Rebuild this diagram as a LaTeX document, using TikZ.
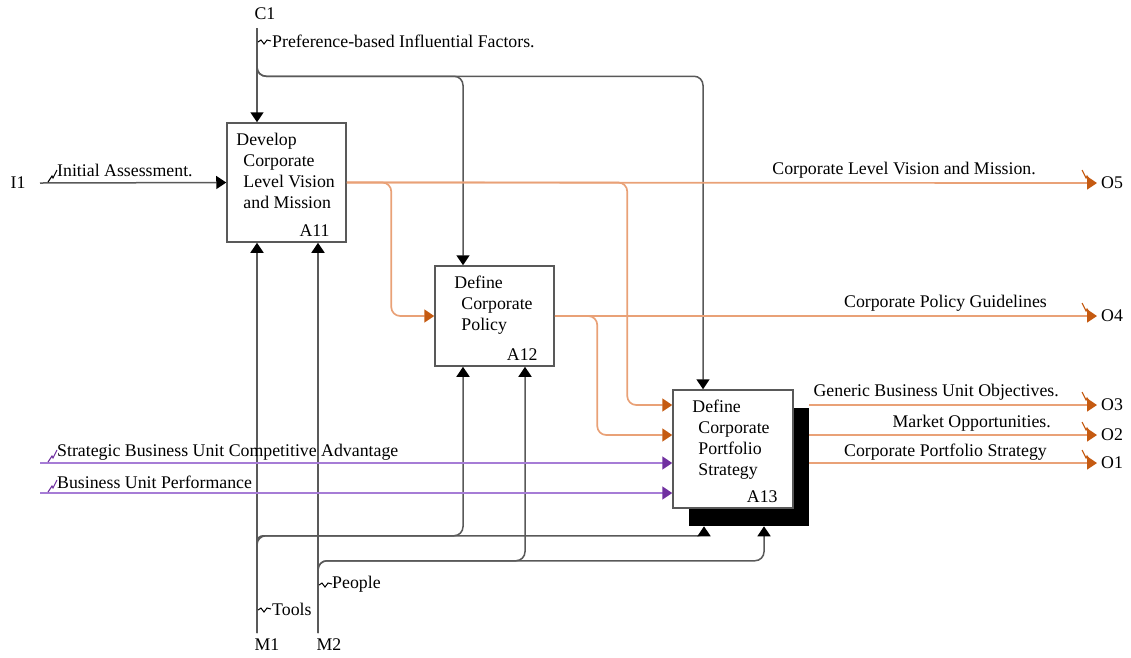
\documentclass[tikz,border=0pt]{standalone}
\usepackage{fontspec}
\setmainfont{Liberation Serif}
\usetikzlibrary{arrows.meta,calc,shadows}
\definecolor{lineorange}{HTML}{E9A177}
\definecolor{tiporange}{HTML}{C55A11}
\definecolor{linepurple}{HTML}{A67CD6}
\definecolor{tippurple}{HTML}{7030A0}
\definecolor{linegray}{HTML}{595959}
\tikzset{
  fnbox/.style={shape=rectangle,draw=linegray,fill=white,line width=1.5pt,inner sep=0pt},
  fntext/.style={anchor=north west,inner sep=0pt,align=left,font=\fontsize{17.8}{21}\selectfont},
  numlab/.style={anchor=east,inner sep=0pt,font=\fontsize{17.8}{21}\selectfont},
  lbl/.style={inner sep=0pt,font=\fontsize{17.8}{21}\selectfont},
  portlab/.style={inner sep=4pt,font=\fontsize{17.8}{21}\selectfont},
  ctl/.style={draw=linegray,line width=1.5pt,rounded corners=9pt,-{Triangle[length=10pt,width=13pt,color=black]}},
  outp/.style={draw=lineorange,line width=1.7pt,rounded corners=9pt,-{Triangle[length=10pt,width=13pt,color=tiporange]}},
  inp/.style={draw=linepurple,line width=1.7pt,-{Triangle[length=10pt,width=13pt,color=tippurple]}},
  squig/.pic={\draw[line width=1pt] (0,0) -- (3,-2) -- (6,2) -- (9,-2) -- (13,-1);},
  bolt/.pic={\draw[line width=1.1pt] (0,0) -- (4,-6) -- (5,-4) -- (9,-12);}
}
\begin{document}
\begin{tikzpicture}[x=1pt,y=-1pt]
\useasboundingbox (0,0) rectangle (1131,657);

\node[fnbox,minimum width=119pt,minimum height=119pt] (A11) at (286.5,182.5) {};
\node[fnbox,minimum width=119pt,minimum height=100pt] (A12) at (494.5,316) {};
\node[fnbox,minimum width=120pt,minimum height=118pt,drop shadow={shadow xshift=15.5pt,shadow yshift=-17.5pt,fill=black,opacity=1}] (A13) at (733,449) {};

\node[fntext] (A11t) at ($(A11.north west)+(10,11)$) {Develop\\\hspace*{7pt}Corporate\\\hspace*{7pt}Level Vision\\\hspace*{7pt}and Mission};
\node[fntext] (A12t) at ($(A12.north west)+(20,11)$) {Define\\\hspace*{7pt}Corporate\\\hspace*{7pt}Policy};
\node[fntext] (A13t) at ($(A13.north west)+(20,11)$) {Define\\\hspace*{6pt}Corporate\\\hspace*{6pt}Portfolio\\\hspace*{6pt}Strategy};
\node[numlab] (A11n) at ($(A11.south east)+(-17,-12)$) {A11};
\node[numlab] (A12n) at ($(A12.south east)+(-17,-12)$) {A12};
\node[numlab] (A13n) at ($(A13.south east)+(-16,-12)$) {A13};

\node[lbl] (C1) at (265,14) {C1};
\node[lbl] (I1) at (18,183) {I1};
\node[lbl] (M1) at (267,645) {M1};
\node[lbl] (M2) at (329,645) {M2};
\node[portlab,anchor=west] (O5) at (1097,183) {O5};
\node[portlab,anchor=west] (O4) at (1097,316) {O4};
\node[portlab,anchor=west] (O3) at (1097,405) {O3};
\node[portlab,anchor=west] (O2) at (1097,435) {O2};
\node[portlab,anchor=west] (O1) at (1097,463) {O1};

\coordinate (c1) at (257,28);
\coordinate (i1) at (40,183);
\coordinate (s1) at (40,463);
\coordinate (s2) at (40,493);
\coordinate (m1) at (257,633);
\coordinate (m2) at (318,633);

\draw[ctl] (c1) -- (A11.north -| c1);
\draw[ctl] (c1) |- ($(A12.north)+(-31.5,-189)$) -- ($(A12.north)+(-31.5,0)$);
\draw[ctl] (c1) |- ($(A13.north)+(-30,-313)$) -- ($(A13.north)+(-30,0)$);
\draw[ctl] (i1) -- (A11.west);
\draw[ctl] (m1) -- (A11.south -| m1);
\draw[ctl] (m2) -- (A11.south -| m2);
\draw[ctl] (m1) |- ($(A12.south)+(-31.5,169)$) -- ($(A12.south)+(-31.5,0)$);
\draw[ctl] (m2) |- ($(A12.south)+(30.5,194)$) -- ($(A12.south)+(30.5,0)$);
\draw[ctl,rounded corners=6pt] (m1) |- ($(A13.south)+(-29,27)$) -- ($(A13.south)+(-29,17.5)$);
\draw[ctl] (m2) |- ($(A13.south)+(31,52)$) -- ($(A13.south)+(31,17.5)$);

\draw[outp] (A11.east) -- (O5.west);
\draw[outp] (A11.east) -| ($(A12.west)+(-43,0)$) -- (A12.west);
\draw[outp] (A11.east) -| ($(A13.west)+(-45,-44)$) -- ($(A13.west)+(0,-44)$);
\draw[outp] (A12.east) -- (O4.west);
\draw[outp] (A12.east) -| ($(A13.west)+(-75,-14)$) -- ($(A13.west)+(0,-14)$);
\draw[outp] ($(A13.east)+(15.5,-44)$) -- (O3.west);
\draw[outp] ($(A13.east)+(15.5,-14)$) -- (O2.west);
\draw[outp] ($(A13.east)+(15.5,14)$) -- (O1.west);
\draw[inp] (s1) -- ($(A13.west)+(0,14)$);
\draw[inp] (s2) -- ($(A13.west)+(0,44)$);

\node[lbl,anchor=west] (pref) at (272,41) {Preference-based Influential Factors.};
\pic at (258,42) {squig};
\node[lbl,anchor=west] (init) at (57,170) {Initial Assessment.};
\pic at (48,182) {bolt};
\node[lbl,anchor=west] (sbu) at (57,452) {Strategic Business Unit Competitive Advantage};
\pic[color=tippurple] at (48,462) {bolt};
\node[lbl,anchor=west] (bup) at (57,482) {Business Unit Performance};
\pic[color=tippurple] at (48,492) {bolt};
\node[lbl,anchor=west] (tools) at (272,609) {Tools};
\pic at (258,610) {squig};
\node[lbl,anchor=west] (people) at (332,584) {People};
\pic at (319,585) {squig};

\node[lbl,anchor=east] (vis) at (1036,170) {Corporate Level Vision and Mission.};
\node[lbl,anchor=east] (pol) at (1047,303) {Corporate Policy Guidelines};
\node[lbl,anchor=east] (gen) at (1059,392) {Generic Business Unit Objectives.};
\node[lbl,anchor=east] (mkt) at (1051,423) {Market Opportunities.};
\node[lbl,anchor=east] (cps) at (1047,452) {Corporate Portfolio Strategy};
\foreach \y in {182,315,404,434,462}
  \pic[color=tiporange,xscale=-1] at (1091,\y) {bolt};
\end{tikzpicture}
\end{document}
